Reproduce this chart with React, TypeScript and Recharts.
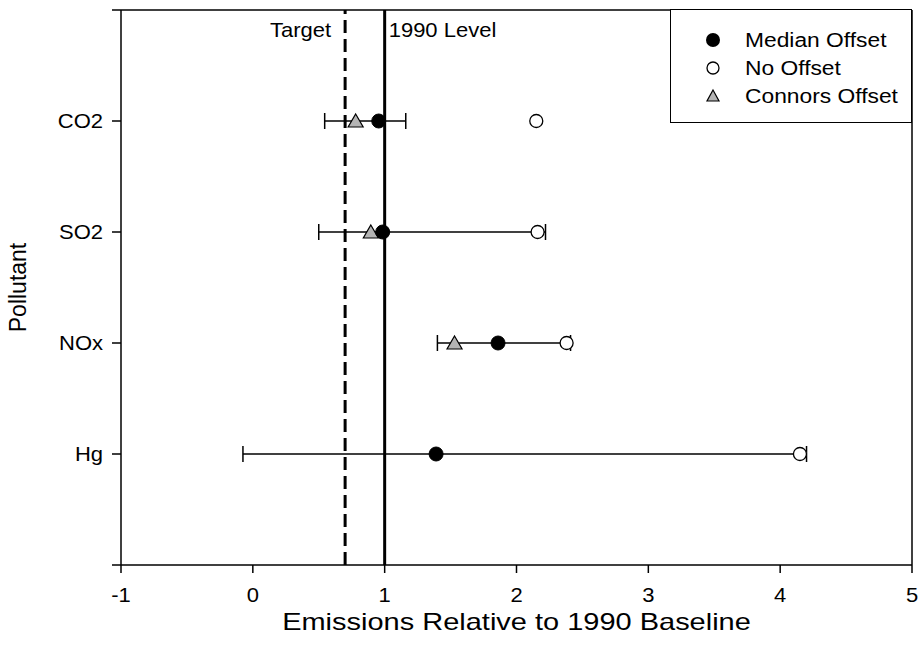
import React from 'react';
import {
  ScatterChart, Scatter, XAxis, YAxis, ErrorBar, ReferenceLine, Legend, Label
} from 'recharts';

const pollutants = ['CO2', 'SO2', 'NOx', 'Hg'];
const pollutantPos = [4, 3, 2, 1];
const yTicks = [0, 1, 2, 3, 4, 5];
const xTicks = [-1, 0, 1, 2, 3, 4, 5];

const medianOffset = [0.955, 0.985, 1.86, 1.39];
const rangeLow = [0.545, 0.5, 1.4, -0.075];
const rangeHigh = [1.16, 2.22, 2.41, 4.2];
const noOffset = [2.15, 2.16, 2.38, 4.15];
const connorsOffset = [0.78, 0.895, 1.53, null];

const targetLevel = 0.7;
const baselineLevel = 1;

const FONT = '"Liberation Sans", Arial, Helvetica, sans-serif';
// the original figure is a bit wider than tall, so its lettering runs wide
const STRETCH = 1.1;

const toPoints = (vals: (number | null)[]) =>
  pollutants
    .map((p, i) => ({ name: p, x: vals[i], y: pollutantPos[i] }))
    .filter((d) => d.x !== null);

const medianData = pollutants.map((p, i) => ({
  name: p,
  x: medianOffset[i],
  y: pollutantPos[i],
  err: [medianOffset[i] - rangeLow[i], rangeHigh[i] - medianOffset[i]],
}));
const noOffsetData = toPoints(noOffset);
const connorsData = toPoints(connorsOffset);

const WideText = ({ x, y, text, size = 20, sx = STRETCH, anchor = 'middle', dy = '0', rotate = 0 }: any) => (
  <text
    x={0}
    y={0}
    dy={dy}
    textAnchor={anchor}
    fontSize={size}
    fontFamily={FONT}
    fill="#000"
    transform={`translate(${x},${y}) rotate(${rotate}) scale(${sx},1)`}
  >
    {text}
  </text>
);

const XTick = (props: any) => (
  <WideText x={props.x} y={props.y} text={String(props.payload.value)} dy="0.71em" />
);
const YTick = (props: any) => {
  const i = pollutantPos.indexOf(props.payload.value);
  if (i < 0) return <g />;
  return <WideText x={props.x} y={props.y} text={pollutants[i]} dy="0.355em" anchor="end" />;
};

const FilledDot = (props: any) => (
  <circle cx={props.cx} cy={props.cy} r={7} fill="#000" stroke="#000" strokeWidth={1} />
);
const OpenDot = (props: any) => (
  <circle cx={props.cx} cy={props.cy} r={6.5} fill="#fff" stroke="#000" strokeWidth={1.3} />
);
const Triangle = (props: any) => {
  const { cx, cy } = props;
  return (
    <path
      d={`M${cx},${cy - 7}L${cx + 7.5},${cy + 6}L${cx - 7.5},${cy + 6}Z`}
      fill="#b4b4b4"
      stroke="#000"
      strokeWidth={1.2}
    />
  );
};
const NoShape = () => <g />;

const lineLabel = (text: string, dx: number, anchor: 'start' | 'end') => (props: any) => {
  const vb = props.viewBox || {};
  return <WideText x={vb.x + dx} y={vb.y + 27} text={text} anchor={anchor} />;
};

const xTitle = (props: any) => {
  const vb = props.viewBox || {};
  return <WideText x={vb.x + vb.width / 2} y={vb.y + 65} text="Emissions Relative to 1990 Baseline" size={23} sx={1.26} />;
};
const yTitle = (props: any) => {
  const vb = props.viewBox || {};
  return <WideText x={vb.x + 26} y={vb.y + vb.height / 2} text="Pollutant" size={23} sx={1} rotate={-90} />;
};

const legendItems = [
  { label: 'Median Offset', kind: 'filled' },
  { label: 'No Offset', kind: 'open' },
  { label: 'Connors Offset', kind: 'tri' },
];

const renderLegend = () => (
  <div
    style={{
      position: 'relative',
      width: 242,
      height: 114,
      border: '1.5px solid #000',
      boxSizing: 'border-box',
      background: '#fff',
      fontFamily: FONT,
      fontSize: 20,
      color: '#000',
    }}
  >
    {legendItems.map((it, i) => (
      <div
        key={it.label}
        style={{ position: 'absolute', left: 30, top: 17 + i * 28, height: 26, display: 'flex', alignItems: 'center' }}
      >
        <svg width={24} height={24} style={{ display: 'block' }}>
          {it.kind === 'filled' && <circle cx={12} cy={12} r={7} fill="#000" />}
          {it.kind === 'open' && <circle cx={12} cy={12} r={6} fill="#fff" stroke="#000" strokeWidth={1.3} />}
          {it.kind === 'tri' && <path d="M12,6L18,17L6,17Z" fill="#b4b4b4" stroke="#000" strokeWidth={1.2} />}
        </svg>
        <span
          style={{ marginLeft: 20, whiteSpace: 'nowrap', display: 'inline-block', transform: 'scaleX(1.14)', transformOrigin: 'left center' }}
        >
          {it.label}
        </span>
      </div>
    ))}
  </div>
);

export default function App() {
  return (
    <div style={{ position: 'absolute', left: 0, top: 0, width: 918, height: 655, background: '#fff', fontFamily: FONT }}>
      <ScatterChart width={918} height={655} margin={{ top: 10, right: 6, bottom: 0, left: 0 }}>
        <XAxis
          type="number"
          dataKey="x"
          domain={[-1, 5]}
          ticks={xTicks}
          tickSize={8}
          tickMargin={15}
          height={90}
          axisLine={{ stroke: '#000', strokeWidth: 1.5 }}
          tickLine={{ stroke: '#000', strokeWidth: 1.5 }}
          tick={XTick}
          allowDataOverflow
        >
          <Label content={xTitle} />
        </XAxis>
        <YAxis
          type="number"
          dataKey="y"
          domain={[0, 5]}
          ticks={yTicks}
          tickSize={9}
          tickMargin={9}
          width={121}
          axisLine={{ stroke: '#000', strokeWidth: 1.5 }}
          tickLine={{ stroke: '#000', strokeWidth: 1.5 }}
          tick={YTick}
        >
          <Label content={yTitle} />
        </YAxis>
        <ReferenceLine y={5} stroke="#000" strokeWidth={1.5} />
        <ReferenceLine x={5} stroke="#000" strokeWidth={1.5} />
        <Scatter name="range" data={medianData} shape={NoShape} legendType="none" isAnimationActive={false}>
          <ErrorBar dataKey="err" direction="x" width={8} stroke="#000" strokeWidth={1.5} />
        </Scatter>
        <ReferenceLine
          x={targetLevel}
          stroke="#000"
          strokeWidth={3}
          strokeDasharray="13 6"
          label={<Label content={lineLabel('Target', -14, 'end')} />}
        />
        <ReferenceLine
          x={baselineLevel}
          stroke="#000"
          strokeWidth={3}
          label={<Label content={lineLabel('1990 Level', 4, 'start')} />}
        />
        <Scatter name="Connors Offset" data={connorsData} shape={Triangle} isAnimationActive={false} />
        <Scatter name="No Offset" data={noOffsetData} shape={OpenDot} isAnimationActive={false} />
        <Scatter name="Median Offset" data={medianData} shape={FilledDot} isAnimationActive={false} />
        <Legend
          layout="vertical"
          align="center"
          verticalAlign="middle"
          content={renderLegend}
          wrapperStyle={{ left: 670, top: 9, width: 242, height: 114 }}
        />
      </ScatterChart>
    </div>
  );
}
